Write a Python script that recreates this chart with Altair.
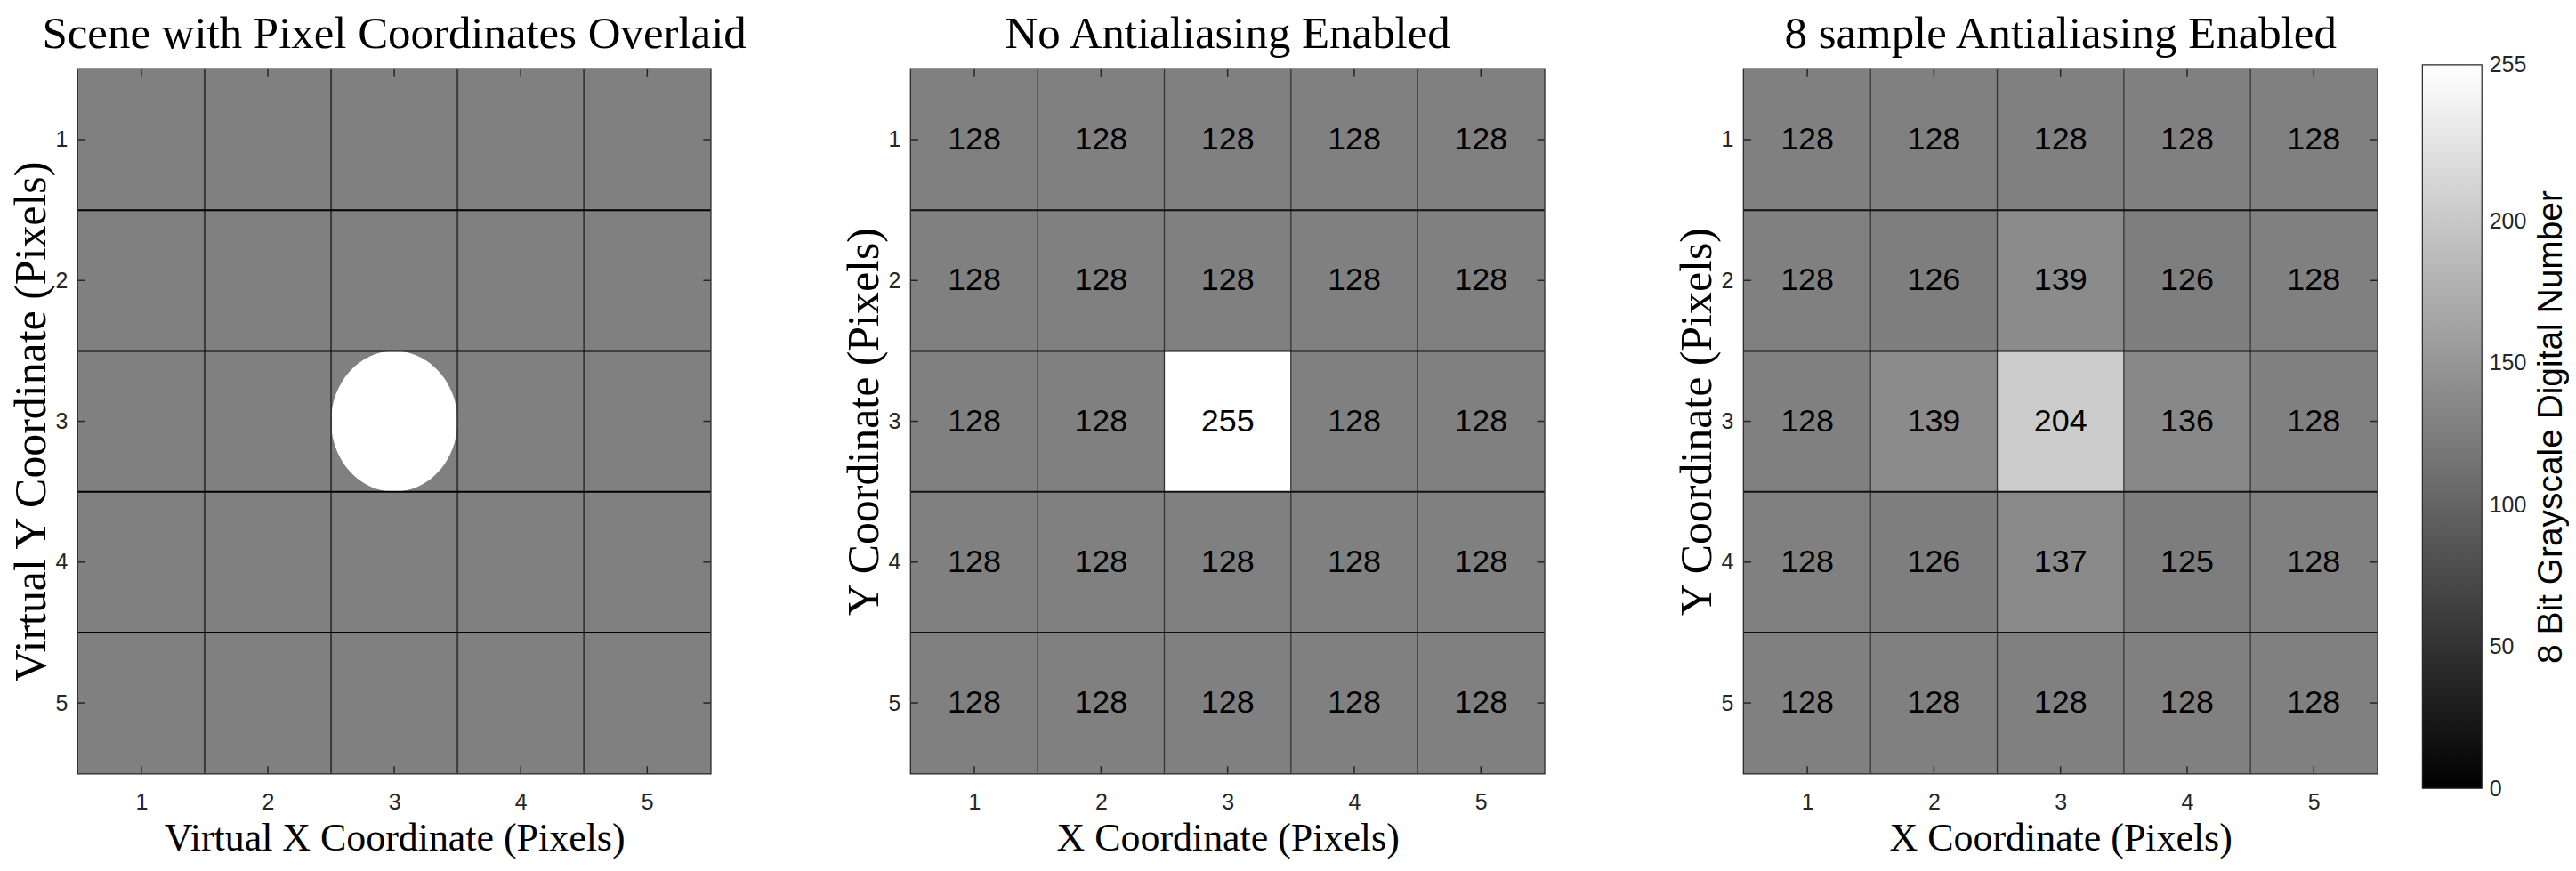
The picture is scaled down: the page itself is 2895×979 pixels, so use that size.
import altair as alt
import pandas as pd

# ---------------- data ----------------
cols = [1, 2, 3, 4, 5]
rows = [1, 2, 3, 4, 5]
tick_vals = [1, 2, 3, 4, 5]
boundaries = [1.5, 2.5, 3.5, 4.5]

scene_bg = [
    [128, 128, 128, 128, 128],
    [128, 128, 128, 128, 128],
    [128, 128, 128, 128, 128],
    [128, 128, 128, 128, 128],
    [128, 128, 128, 128, 128],
]
circle_center = [3, 3]
circle_radius = 0.5

no_aa = [
    [128, 128, 128, 128, 128],
    [128, 128, 128, 128, 128],
    [128, 128, 255, 128, 128],
    [128, 128, 128, 128, 128],
    [128, 128, 128, 128, 128],
]
aa8 = [
    [128, 128, 128, 128, 128],
    [128, 126, 139, 126, 128],
    [128, 139, 204, 136, 128],
    [128, 126, 137, 125, 128],
    [128, 128, 128, 128, 128],
]
cbar_range = [0, 255]
cbar_ticks = [0, 50, 100, 150, 200, 255]

titles = ["Scene with Pixel Coordinates Overlaid", "No Antialiasing Enabled",
          "8 sample Antialiasing Enabled"]
xtitles = ["Virtual X Coordinate (Pixels)", "X Coordinate (Pixels)", "X Coordinate (Pixels)"]
ytitles = ["Virtual Y Coordinate (Pixels)", "Y Coordinate (Pixels)", "Y Coordinate (Pixels)"]
cbar_title = "8 Bit Grayscale Digital Number"

# ---------------- style ----------------
H = 793
WIDTHS = [712, 713, 713]
CB_W, CB_H = 67, 810
SERIF = "Liberation Serif"
SANS = "Liberation Sans"
AX = "#262626"
TICK = 8
LBL = 25


def grid_df(g):
    recs = []
    for ri, r in enumerate(rows):
        for ci, c in enumerate(cols):
            recs.append({"x": c, "y": r, "v": g[ri][ci]})
    return pd.DataFrame(recs)


def xenc(field, title):
    return alt.X(f"{field}:Q",
                 scale=alt.Scale(domain=[0.5, 5.5], nice=False, zero=False),
                 axis=alt.Axis(values=tick_vals, format="d", title=title, ticks=False,
                               domain=False, grid=False, labelPadding=20, labelFont=SANS,
                               labelFontSize=LBL, labelColor=AX, labelFlush=False,
                               titleFont=SERIF, titleFontSize=44, titleFontWeight="normal",
                               titleColor="black", titlePadding=6))


def yenc(field, title):
    return alt.Y(f"{field}:Q",
                 scale=alt.Scale(domain=[0.5, 5.5], nice=False, zero=False, reverse=True),
                 axis=alt.Axis(values=tick_vals, format="d", title=title, ticks=False,
                               domain=False, grid=False, labelPadding=12, labelFont=SANS,
                               labelFontSize=LBL, labelColor=AX, labelFlush=False,
                               titleFont=SERIF, titleFontSize=50, titleFontWeight="normal",
                               titleColor="black", titlePadding=2))


gray = alt.Scale(domain=cbar_range, range=["#000000", "#ffffff"], interpolate="rgb")


def panel(i, grid, labels, vline_color, vline_w, hline_color, hline_w, circle=False):
    W = WIDTHS[i]
    xt, yt = xtitles[i], ytitles[i]
    cells = alt.Chart(grid_df(grid)).transform_calculate(
        x0="datum.x - 0.5", x1="datum.x + 0.5", y0="datum.y - 0.5", y1="datum.y + 0.5"
    ).mark_rect(strokeWidth=0).encode(
        x=xenc("x0", xt), x2="x1:Q", y=yenc("y0", yt), y2="y1:Q",
        color=alt.Color("v:Q", scale=gray, legend=None),
    )
    layers = [cells]
    if circle:
        rx = circle_radius * W / 5.0
        ry = circle_radius * H / 5.0
        a = rx / ry
        k = 0.5523
        path = (f"M0,-1C{a*k:.4f},-1 {a:.4f},-{k} {a:.4f},0"
                f"C{a:.4f},{k} {a*k:.4f},1 0,1"
                f"C-{a*k:.4f},1 -{a:.4f},{k} -{a:.4f},0"
                f"C-{a:.4f},-{k} -{a*k:.4f},-1 0,-1Z")
        circ = alt.Chart(pd.DataFrame({"cx": [circle_center[0]], "cy": [circle_center[1]]})).mark_point(
            shape=path, size=(2 * ry) ** 2, filled=True, color="white", opacity=1, strokeWidth=0
        ).encode(x=xenc("cx", xt), y=yenc("cy", yt))
        layers.append(circ)
    bdf = pd.DataFrame({"b": boundaries})
    vl = alt.Chart(bdf).mark_rule(color=vline_color, strokeWidth=vline_w).encode(x=xenc("b", xt))
    hl = alt.Chart(bdf).mark_rule(color=hline_color, strokeWidth=hline_w).encode(y=yenc("b", yt))
    layers += [vl, hl]
    tdf = pd.DataFrame({"t": tick_vals})
    tk = alt.Chart(tdf).mark_rule(color=AX, strokeWidth=1.5)
    layers += [
        tk.encode(x=xenc("t", xt), y=alt.value(0), y2=alt.value(TICK)),
        tk.encode(x=xenc("t", xt), y=alt.value(H), y2=alt.value(H - TICK)),
        tk.encode(y=yenc("t", yt), x=alt.value(0), x2=alt.value(TICK)),
        tk.encode(y=yenc("t", yt), x=alt.value(W), x2=alt.value(W - TICK)),
    ]
    if labels:
        txt = alt.Chart(grid_df(grid)).mark_text(
            font=SANS, fontSize=36, color="black", baseline="middle", align="center"
        ).encode(x=xenc("x", xt), y=yenc("y", yt), text="v:Q")
        layers.append(txt)
    return alt.layer(*layers).properties(
        width=W, height=H,
        title=alt.TitleParams(titles[i], font=SERIF, fontSize=51, fontWeight="normal",
                              color="black", offset=-28, baseline="alphabetic",
                              anchor="middle", frame="group"),
    )


p1 = panel(0, scene_bg, False, "#3a3a3a", 2, "#000000", 2, circle=True)
p2 = panel(1, no_aa, True, "#333333", 1.3, "#111111", 2)
p3 = panel(2, aa8, True, "#333333", 1.3, "#111111", 2)


def spacer(w):
    return alt.Chart(pd.DataFrame({"s": [0]})).mark_rect(opacity=0).encode(
        x=alt.value(0), x2=alt.value(1), y=alt.value(0), y2=alt.value(1)
    ).properties(width=w, height=H, view=alt.ViewBackground(strokeOpacity=0))


grad = alt.LinearGradient(
    gradient="linear",
    stops=[alt.GradientStop(color="#000000", offset=0), alt.GradientStop(color="#ffffff", offset=1)],
    x1=0, x2=0, y1=1, y2=0,
)
cbar = alt.Chart(pd.DataFrame({"lo": [cbar_range[0]], "hi": [cbar_range[1]]})).mark_rect(
    fill=grad, stroke=AX, strokeWidth=1.2
).encode(
    y=alt.Y("lo:Q",
            scale=alt.Scale(domain=cbar_range, range=[CB_H, -5], nice=False, zero=False),
            axis=alt.Axis(orient="right", values=cbar_ticks, ticks=False, domain=False, grid=False,
                          labelPadding=8, labelFont=SANS, labelFontSize=25, labelColor=AX,
                          labelFlush=False, labelOverlap=False,
                          title=cbar_title, titleFont=SANS, titleFontSize=39,
                          titleFontWeight="normal", titleColor="black", titleAngle=270,
                          titleBaseline="top", titlePadding=9)),
    y2="hi:Q",
).properties(width=CB_W, height=CB_H, view=alt.ViewBackground(strokeOpacity=0))

chart = alt.hconcat(
    p1, spacer(124), p2, spacer(123), p3, cbar, spacing=51, bounds="flush"
).properties(
    padding={"left": 0, "top": 2, "right": 0, "bottom": 4}
).configure_view(
    stroke=AX, strokeWidth=2.5
).configure_axis(
    labelFont=SANS, labelFontSize=LBL, labelColor=AX, titleFont=SERIF,
    titleFontWeight="normal", titleColor="black"
)

chart.save("out.html", embed_options={"renderer": "svg", "actions": False})
